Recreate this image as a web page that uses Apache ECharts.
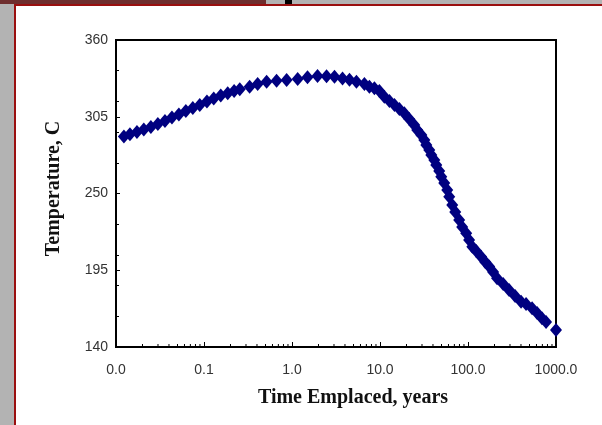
<!DOCTYPE html>
<html>
<head>
<meta charset="utf-8">
<script src="https://cdn.jsdelivr.net/npm/echarts@6/dist/echarts.min.js"></script>
<style>
  html, body { margin: 0; padding: 0; background: #fff; }
  #chart-container { width: 602px; height: 425px; }
</style>
</head>
<body>
<div id="chart-container"></div>
<script>
// time since emplacement (years) and drift temperature (C)
const timeYears = [
  0.0123, 0.0144, 0.0173, 0.0207, 0.0249, 0.0299, 0.036, 0.0432, 0.0518, 0.0622,
  0.0746, 0.0895, 0.108, 0.129, 0.155, 0.186, 0.22, 0.255, 0.33, 0.407, 0.515,
  0.668, 0.869, 1.16, 1.5, 1.95, 2.47, 3.04, 3.75, 4.5, 5.4, 6.65,
  7.58, 8.64, 9.84, 11.2, 12.8, 14.6, 16.6, 18.9, 21.5, 24.5,
  26.5, 29.5, 31.9, 33.6, 36.3, 38.3, 41.4, 43.6, 47.1, 49.7,
  53.7, 58.1, 61.2, 66.2, 71.6, 79.4, 85.9, 95.4, 103, 112,
  124, 141, 157, 174, 193, 214, 251, 293, 343, 401,
  457, 535, 610, 693, 771, 1000
];
const temperatureC = [
  290.8, 292.4, 294.1, 295.9, 297.7, 299.8, 302.0, 304.5, 306.7, 309.1,
  311.3, 313.4, 315.9, 318.1, 320.2, 321.8, 323.4, 324.7, 326.5, 328.5, 330.1,
  330.8, 331.3, 332.0, 333.3, 334.2, 334.0, 333.7, 332.5, 331.6, 330.1, 328.5,
  326.5, 325.4, 323.5, 319.4, 316.3, 313.4, 310.6, 307.5, 303.4, 299.1,
  295.5, 291.9, 288.3, 284.8, 281.2, 277.6, 274.0, 270.4, 266.1, 262.0,
  257.5, 252.5, 247.7, 241.8, 236.7, 231.0, 226.0, 221.5, 216.7, 211.9,
  208.8, 204.7, 200.9, 197.6, 193.7, 189.2, 185.1, 180.8, 176.5, 172.5,
  170.8, 167.7, 164.4, 160.6, 157.9, 152.2
];

// axis settings
const yMin = 140;
const yMax = 360;
const yMajorStep = 55;
const yMinorStep = 22;
const xDecades = [0.01, 0.1, 1, 10, 100];
const xMinorSteps = [2, 3, 4, 5, 6, 7, 8, 9];

const points = timeYears.map((t, i) => [t, temperatureC[i]]);
const xMinorTicks = [];
xDecades.forEach((d) => {
  xMinorSteps.forEach((s) => xMinorTicks.push([d * s, yMin]));
});

const dom = document.getElementById("chart-container");
const myChart = echarts.init(dom, null, { renderer: "canvas" });

const option = {
  animation: false,
  backgroundColor: "#ffffff",
  graphic: [
    // page frame around the slide
    { type: "rect", z: -10, shape: { x: 0, y: 0, width: 602, height: 4 }, style: { fill: "#b3b3b3" } },
    { type: "rect", z: -9, shape: { x: 0, y: 0, width: 266, height: 4 }, style: { fill: "#6f2e2e" } },
    { type: "rect", z: -9, shape: { x: 285, y: 0, width: 7, height: 4 }, style: { fill: "#000" } },
    { type: "rect", z: -10, shape: { x: 0, y: 4, width: 14, height: 421 }, style: { fill: "#b3b3b3" } },
    { type: "rect", z: -9, shape: { x: 14, y: 4, width: 588, height: 2 }, style: { fill: "#9a0f0f" } },
    { type: "rect", z: -9, shape: { x: 14, y: 4, width: 2, height: 421 }, style: { fill: "#9a0f0f" } }
  ],
  grid: {
    left: 116,
    right: 46,
    top: 40,
    bottom: 78,
    show: true,
    borderColor: "#000",
    borderWidth: 2,
    backgroundColor: "#fff"
  },
  xAxis: {
    type: "log",
    logBase: 10,
    min: 0.01,
    max: 1000,
    name: "Time Emplaced, years",
    nameLocation: "middle",
    nameGap: 41,
    nameTextStyle: {
      fontFamily: "Liberation Serif",
      fontWeight: "bold",
      fontSize: 20,
      color: "#111",
      padding: [0, 0, 0, 34]
    },
    axisLine: { lineStyle: { color: "#000", width: 2 } },
    axisTick: { inside: true, length: 5, lineStyle: { color: "#000", width: 1 } },
    axisLabel: {
      margin: 16,
      fontFamily: "Liberation Sans",
      fontSize: 14,
      color: "#333",
      formatter: (v) => v.toFixed(1)
    },
    splitLine: { show: false },
    minorTick: { show: false }
  },
  yAxis: [
    {
      type: "value",
      min: yMin,
      max: yMax,
      interval: yMajorStep,
      name: "Temperature, C",
      nameLocation: "middle",
      nameGap: 52,
      nameTextStyle: {
        fontFamily: "Liberation Serif",
        fontWeight: "bold",
        fontSize: 20,
        color: "#111",
        padding: [0, 0, 0, 10]
      },
      axisLine: { show: true, lineStyle: { color: "#000", width: 2 } },
      axisTick: { show: true, inside: true, length: 4, lineStyle: { color: "#000", width: 1 } },
      axisLabel: {
        margin: 8,
        fontFamily: "Liberation Sans",
        fontSize: 14,
        color: "#333"
      },
      splitLine: { show: false }
    },
    {
      type: "value",
      position: "left",
      min: yMin,
      max: yMax,
      interval: yMinorStep,
      axisLine: { show: false },
      axisTick: { show: true, inside: true, length: 3, lineStyle: { color: "#000", width: 1 } },
      axisLabel: { show: false },
      splitLine: { show: false }
    }
  ],
  series: [
    {
      // log minor ticks along the bottom axis
      type: "custom",
      yAxisIndex: 0,
      silent: true,
      data: xMinorTicks,
      renderItem: (params, api) => {
        const p = api.coord([api.value(0), api.value(1)]);
        return {
          type: "line",
          shape: { x1: p[0], y1: p[1], x2: p[0], y2: p[1] - 3 },
          style: { stroke: "#000", lineWidth: 1 }
        };
      }
    },
    {
      type: "scatter",
      yAxisIndex: 0,
      symbol: "diamond",
      symbolSize: [12, 14],
      itemStyle: { color: "#000080", opacity: 1 },
      data: points
    }
  ]
};

myChart.setOption(option);
</script>
</body>
</html>
